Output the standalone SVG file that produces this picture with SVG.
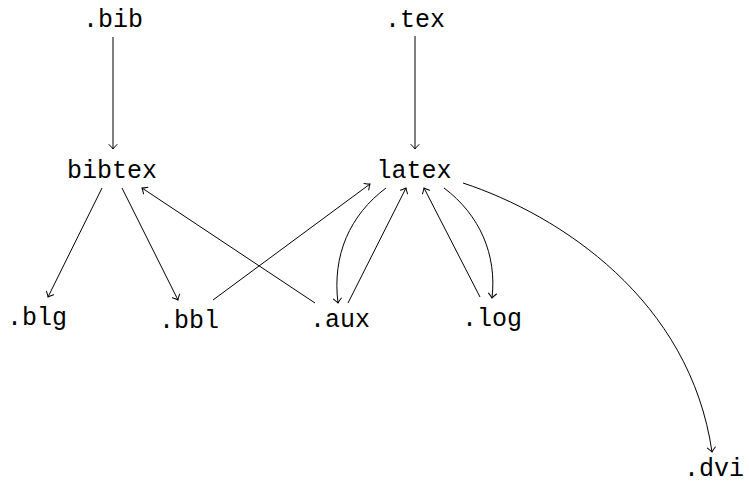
<svg xmlns="http://www.w3.org/2000/svg" width="749" height="483" viewBox="0 0 749 483">
<style>
text{font-family:"Liberation Mono","DejaVu Sans Mono",monospace;font-size:25px;fill:#000;text-anchor:middle}
.c path,.c line{fill:none;stroke:#000;stroke-width:1;marker-end:url(#ah)}
</style>
<defs>
<marker id="ah" markerUnits="userSpaceOnUse" viewBox="-6 -5 7 10" refX="0" refY="0" markerWidth="7" markerHeight="10" orient="auto" overflow="visible">
<path d="M-4.5,-4 Q-1.5,-1 0,0 Q-1.5,1 -4.5,4" fill="none" stroke="#000" stroke-width="1" stroke-linecap="round"/>
</marker>
</defs>
<rect width="749" height="483" fill="#fff"/>
<g class="c">
<line x1="113" y1="37" x2="113" y2="149"/>
<line x1="415" y1="36" x2="415" y2="149"/>
<line x1="102" y1="188" x2="48" y2="297"/>
<line x1="122" y1="188" x2="178" y2="300"/>
<line x1="315" y1="303" x2="142" y2="188"/>
<line x1="213" y1="300" x2="370" y2="184"/>
<path d="M386,188 C350,215 332,255 338,303"/>
<line x1="348" y1="303" x2="406" y2="188"/>
<line x1="480" y1="297" x2="424" y2="188"/>
<path d="M444,188 C480,215 497,255 492,298"/>
<path d="M463,183 C560,215 690,300 712,452"/>
</g>
<g id="bib"><text x="113" y="27">.bib</text></g>
<g id="tex"><text x="415" y="27">.tex</text></g>
<g id="bibtex"><text x="112" y="178">bibtex</text></g>
<g id="latex"><text x="414" y="178">latex</text></g>
<g id="blg"><text x="37" y="325">.blg</text></g>
<g id="bbl"><text x="189" y="328">.bbl</text></g>
<g id="aux"><text x="340" y="327">.aux</text></g>
<g id="log"><text x="492" y="326">.log</text></g>
<g id="dvi"><text x="714" y="476">.dvi</text></g>
</svg>
